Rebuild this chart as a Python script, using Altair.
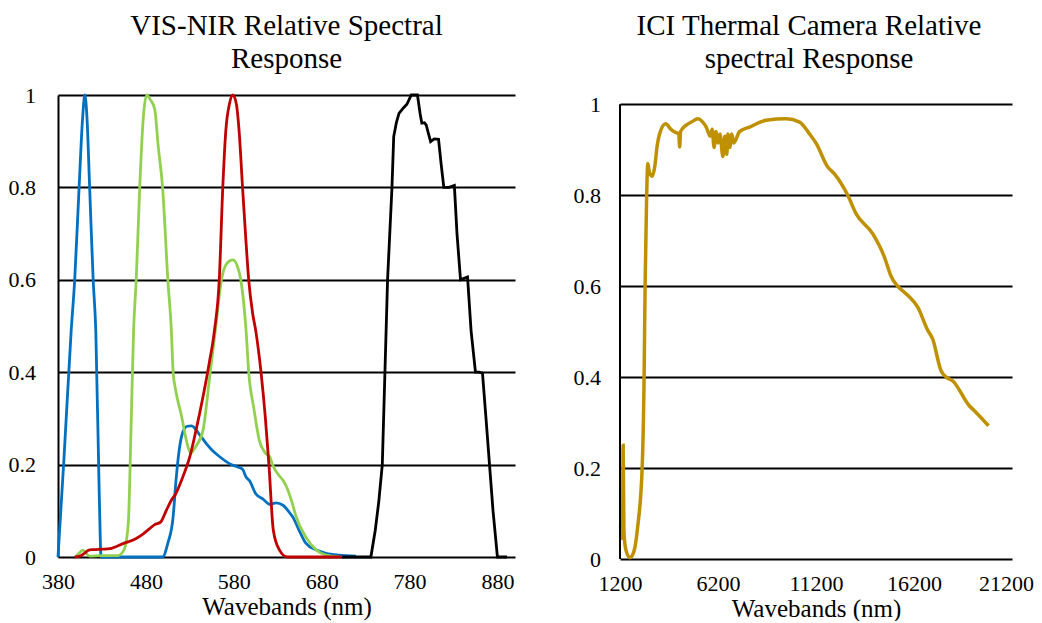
import altair as alt
import pandas as pd

# ---------------- VIS-NIR data (wavelength nm, relative response) ----------------
blue_nm = [380, 387, 395, 399, 404, 408, 410.5, 413, 416, 420, 423, 427, 429, 460, 499, 505, 511, 514, 518,
           522, 527, 532, 541, 549, 556, 564, 571, 577, 583, 590, 594, 598, 605, 613, 621, 628, 636, 643,
           647, 655, 662, 674, 685, 700, 719]
blue_val = [0, 0.22, 0.49, 0.6, 0.8, 0.95, 1.0, 0.95, 0.8, 0.6, 0.49, 0.13, 0.0, 0.0, 0.0, 0.03, 0.087, 0.16,
            0.233, 0.27, 0.283, 0.284, 0.265, 0.245, 0.23, 0.217, 0.207, 0.2, 0.196, 0.19, 0.173, 0.165, 0.137,
            0.126, 0.114, 0.117, 0.112, 0.097, 0.087, 0.055, 0.03, 0.015, 0.008, 0.004, 0.002]

green_nm = [400, 404, 408, 412, 416, 430, 448, 455, 460, 463, 466, 469, 473, 477, 481, 485, 490, 494, 499,
            505, 509, 511, 514, 520, 528, 531, 537, 545, 552, 559, 566, 572, 579, 584, 588, 594, 597, 603,
            609, 616, 621, 624, 630, 636, 640, 646, 651, 662, 674, 685, 700]
green_val = [0, 0.008, 0.015, 0.008, 0.002, 0.003, 0.003, 0.015, 0.073, 0.27, 0.49, 0.6, 0.8, 0.95, 1.0, 0.99,
             0.97, 0.89, 0.8, 0.6, 0.49, 0.4, 0.36, 0.31, 0.238, 0.225, 0.24, 0.274, 0.38, 0.49, 0.6, 0.635,
             0.643, 0.63, 0.6, 0.49, 0.4, 0.32, 0.253, 0.225, 0.217, 0.2, 0.18, 0.166, 0.152, 0.12, 0.087,
             0.043, 0.015, 0.004, 0.0]

red_nm = [399, 405, 410, 415, 420, 430, 439, 454, 469, 477, 484, 490, 497, 503, 509, 514, 522, 530, 537, 545,
          552, 558, 563.5, 567.5, 571, 575, 579, 583, 586, 590, 594, 597, 601.5, 605, 611, 616, 620, 625, 632,
          641, 660, 702]
red_val = [0, 0.002, 0.008, 0.015, 0.016, 0.017, 0.018, 0.029, 0.04, 0.05, 0.061, 0.07, 0.076, 0.1, 0.123,
           0.137, 0.173, 0.217, 0.274, 0.347, 0.419, 0.49, 0.6, 0.8, 0.924, 0.98, 1.0, 0.98, 0.924, 0.8, 0.68,
           0.6, 0.527, 0.49, 0.4, 0.3, 0.2, 0.058, 0.015, 0.0, 0.0, 0.0]

black_nm = [703, 736, 741, 745, 749, 752, 755, 760, 762, 765, 768, 773, 777, 782, 789, 792, 794, 797, 799, 801,
            804, 808, 813, 816, 819, 825, 831, 834, 838, 842, 846, 850, 855, 859, 863, 867, 871, 875, 880, 891]
black_val = [0, 0, 0.058, 0.12, 0.2, 0.4, 0.6, 0.8, 0.91, 0.94, 0.96, 0.972, 0.98, 1.0, 1.0, 0.96, 0.939, 0.94,
             0.935, 0.92, 0.899, 0.905, 0.904, 0.85, 0.8, 0.8, 0.804, 0.7, 0.6, 0.603, 0.606, 0.49, 0.4, 0.4,
             0.398, 0.3, 0.2, 0.1, 0.0, 0.0]

# ---------------- Thermal camera data ----------------
thermal_nm = [1230, 1260, 1330, 1360, 1400, 1500, 1700, 1900, 2100, 2330, 2430, 2480, 2560, 2620, 2700, 2850,
              2970, 3100, 3220, 3530, 3800, 3990, 4200, 4243, 4290, 4600, 4840, 5175, 5400, 5600, 5800, 5900,
              6000, 6100, 6200, 6300, 6450, 6550, 6650, 6700, 6800, 6900, 7000, 7300, 7810, 8660, 9680, 10360,
              10870, 11210, 11800, 12140, 12820, 13250, 14100, 14690, 14950, 15000, 15370, 15880, 16390, 16900,
              17150, 17580, 17840, 18170, 19020, 19280, 20000]
thermal_val = [0.075, 0.045, 0.05, 0.25, 0.06, 0.02, 0.003, 0.015, 0.07, 0.2, 0.4, 0.6, 0.8, 0.87, 0.85, 0.842,
               0.862, 0.91, 0.935, 0.957, 0.945, 0.939, 0.935, 0.906, 0.94, 0.955, 0.961, 0.968, 0.962, 0.95,
               0.93, 0.945, 0.905, 0.94, 0.915, 0.935, 0.885, 0.93, 0.89, 0.935, 0.905, 0.935, 0.915, 0.94, 0.95,
               0.965, 0.968, 0.961, 0.935, 0.914, 0.862, 0.847, 0.8, 0.759, 0.715, 0.664, 0.631, 0.625, 0.6,
               0.58, 0.554, 0.503, 0.484, 0.414, 0.4, 0.392, 0.337, 0.326, 0.293]

left_ticks = [380, 480, 580, 680, 780, 880]
right_ticks = [1200, 6200, 11200, 16200, 21200]
y_ticks = [0, 0.2, 0.4, 0.6, 0.8, 1.0]

series_names = ["Blue", "Green", "Red"]
series_colors = ["#0070C0", "#92D050", "#C00000"]

FONT = "Liberation Serif"

rows = []
for name, xs, ys in [("Blue", blue_nm, blue_val), ("Green", green_nm, green_val), ("Red", red_nm, red_val)]:
    for a, b in zip(xs, ys):
        rows.append({"series": name, "nm": a, "val": b})
df_col = pd.DataFrame(rows)
df_black = pd.DataFrame({"nm": black_nm, "val": black_val})
df_th = pd.DataFrame({"nm": thermal_nm, "val": thermal_val})
df_axis = pd.DataFrame({"nm": [right_ticks[0]], "lo": [0.0], "hi": [1.0]})


def x_axis(vals, last_shift=0):
    kw = {}
    if last_shift:
        kw["labelOffset"] = {"condition": {"test": f"datum.value == {vals[-1]}", "value": last_shift},
                             "value": 0}
    return alt.Axis(values=vals, format="d", title="Wavebands (nm)", grid=False, ticks=False, domain=False,
                    labelFont=FONT, titleFont=FONT, labelFontSize=22, titleFontSize=25,
                    titleFontWeight="normal", labelColor="black", titleColor="black",
                    labelPadding=14, titlePadding=2, labelFlush=False, labelOverlap=False, **kw)


def y_axis(pad, domain=True):
    return alt.Axis(values=y_ticks, format="~g", title=None, grid=True, gridColor="black", gridWidth=2,
                    gridOpacity=1, domain=domain, domainColor="black", domainWidth=2, ticks=False,
                    labelFont=FONT, labelFontSize=22, labelColor="black", labelPadding=pad,
                    labelFlush=False, labelOverlap=False)


xl = alt.X("nm:Q", scale=alt.Scale(domain=[380, 900], nice=False, zero=False), axis=x_axis(left_ticks))
yl = alt.Y("val:Q", scale=alt.Scale(domain=[0, 1], nice=False), axis=y_axis(22.5))

colored = alt.Chart(df_col).mark_line(strokeWidth=2.8, interpolate="monotone").encode(
    x=xl, y=yl,
    color=alt.Color("series:N", scale=alt.Scale(domain=series_names, range=series_colors), legend=None),
)
black = alt.Chart(df_black).mark_line(strokeWidth=2.8, color="black").encode(x=xl, y=yl)

left = alt.layer(colored, black).properties(
    width=457, height=462,
    title=alt.TitleParams(text=["VIS-NIR Relative Spectral", "Response"], font=FONT, fontSize=29,
                          fontWeight="normal", color="black", lineHeight=33, anchor="middle",
                          baseline="top", offset=10.5),
)

xr = alt.X("nm:Q", scale=alt.Scale(domain=[1200, 21200], nice=False, zero=False),
           axis=x_axis(right_ticks, last_shift=-6))
yr = alt.Y("val:Q", scale=alt.Scale(domain=[0, 1.0205], nice=False), axis=y_axis(19.5, domain=False))

axis_line = alt.Chart(df_axis).mark_rule(color="black", strokeWidth=2).encode(
    x=alt.X("nm:Q", scale=alt.Scale(domain=[1200, 21200], nice=False, zero=False)),
    y=alt.Y("lo:Q", scale=alt.Scale(domain=[0, 1.0205], nice=False)),
    y2="hi:Q",
)
gold = alt.Chart(df_th).mark_line(strokeWidth=3.5, color="#BF9000", interpolate="monotone").encode(
    x=xr, y=yr
)

right = alt.layer(gold, axis_line).properties(
    width=392, height=464,
    title=alt.TitleParams(text=["ICI Thermal Camera Relative", "spectral Response"], font=FONT, fontSize=29,
                          fontWeight="normal", color="black", lineHeight=33, anchor="middle",
                          baseline="top", offset=19.5, dx=-7),
)

chart = alt.hconcat(left, right, spacing=58).properties(
    padding={"left": 0, "top": 3, "right": 0, "bottom": 0}
).configure(
    background="white", font=FONT
).configure_view(
    stroke=None
).configure_axis(
    labelFont=FONT, titleFont=FONT
).configure_title(
    font=FONT
)

chart.save("out.html", embed_options={"renderer": "svg", "actions": False})
